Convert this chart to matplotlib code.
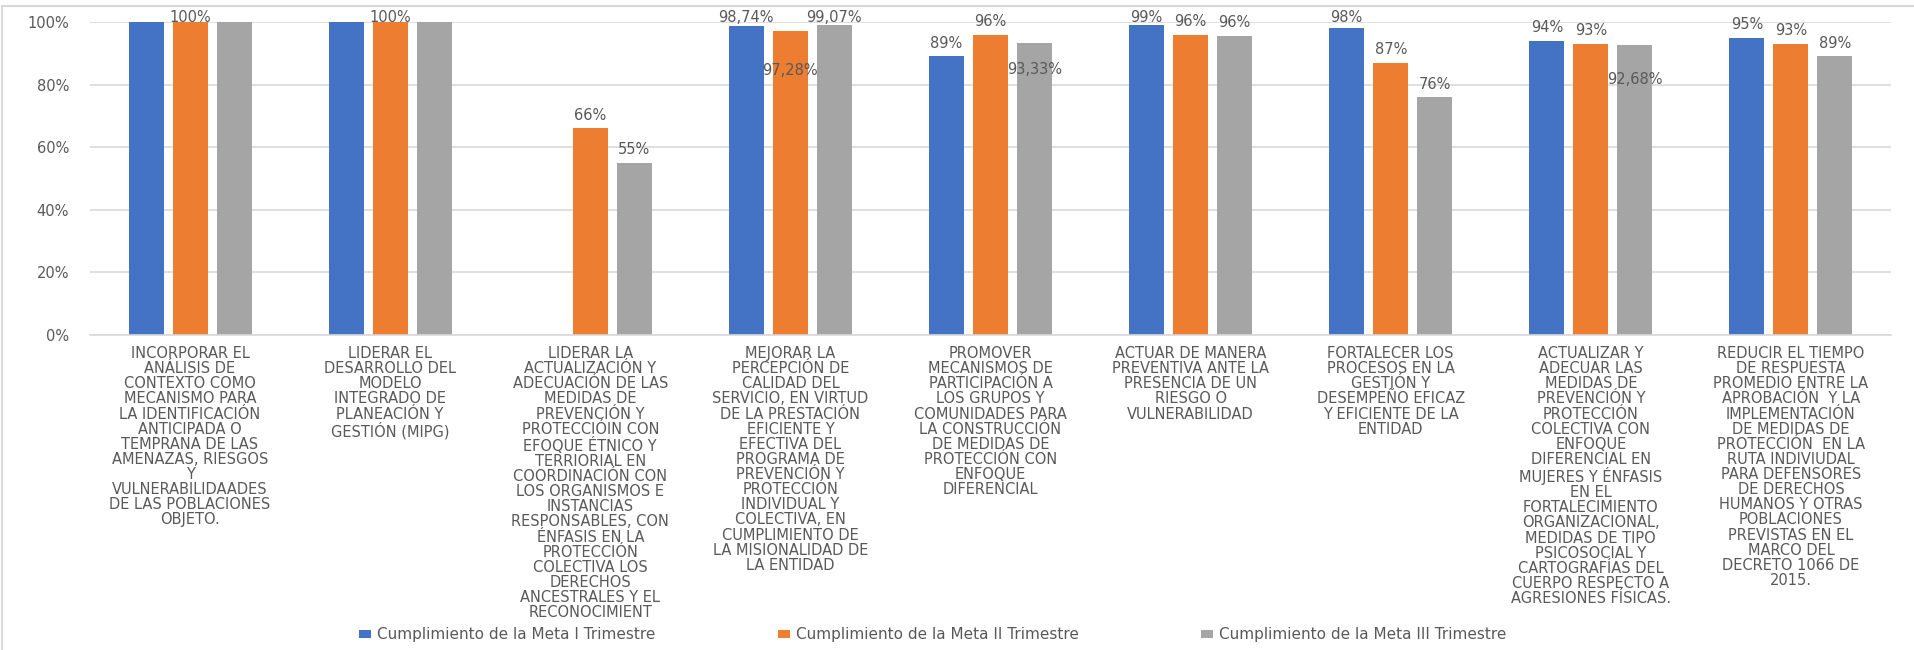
import numpy as np
import matplotlib
matplotlib.use("Agg")
import matplotlib.pyplot as plt
from matplotlib.lines import Line2D

# ---------------- data ----------------
categories = [
    "INCORPORAR EL\nANÁLISIS DE\nCONTEXTO COMO\nMECANISMO PARA\nLA IDENTIFICACIÓN\nANTICIPADA O\nTEMPRANA DE LAS\nAMENAZAS, RIESGOS\nY\nVULNERABILIDAADES\nDE LAS POBLACIONES\nOBJETO.",
    "LIDERAR EL\nDESARROLLO DEL\nMODELO\nINTEGRADO DE\nPLANEACIÓN Y\nGESTIÓN (MIPG)",
    "LIDERAR LA\nACTUALIZACIÓN Y\nADECUACIÓN DE LAS\nMEDIDAS DE\nPREVENCIÓN Y\nPROTECCIÓIN CON\nEFOQUE ÉTNICO Y\nTERRIORIAL EN\nCOORDINACIÓN CON\nLOS ORGANISMOS E\nINSTANCIAS\nRESPONSABLES, CON\nÉNFASIS EN LA\nPROTECCIÓN\nCOLECTIVA LOS\nDERECHOS\nANCESTRALES Y EL\nRECONOCIMIENT",
    "MEJORAR LA\nPERCEPCIÓN DE\nCALIDAD DEL\nSERVICIO, EN VIRTUD\nDE LA PRESTACIÓN\nEFICIENTE Y\nEFECTIVA DEL\nPROGRAMA DE\nPREVENCIÓN Y\nPROTECCIÓN\nINDIVIDUAL Y\nCOLECTIVA, EN\nCUMPLIMIENTO DE\nLA MISIONALIDAD DE\nLA ENTIDAD",
    "PROMOVER\nMECANISMOS DE\nPARTICIPACIÓN A\nLOS GRUPOS Y\nCOMUNIDADES PARA\nLA CONSTRUCCIÓN\nDE MEDIDAS DE\nPROTECCIÓN CON\nENFOQUE\nDIFERENCIAL",
    "ACTUAR DE MANERA\nPREVENTIVA ANTE LA\nPRESENCIA DE UN\nRIESGO O\nVULNERABILIDAD",
    "FORTALECER LOS\nPROCESOS EN LA\nGESTIÓN Y\nDESEMPEÑO EFICAZ\nY EFICIENTE DE LA\nENTIDAD",
    "ACTUALIZAR Y\nADECUAR LAS\nMEDIDAS DE\nPREVENCIÓN Y\nPROTECCIÓN\nCOLECTIVA CON\nENFOQUE\nDIFERENCIAL EN\nMUJERES Y ÉNFASIS\nEN EL\nFORTALECIMIENTO\nORGANIZACIONAL,\nMEDIDAS DE TIPO\nPSICOSOCIAL Y\nCARTOGRAFÍAS DEL\nCUERPO RESPECTO A\nAGRESIONES FÍSICAS.",
    "REDUCIR EL TIEMPO\nDE RESPUESTA\nPROMEDIO ENTRE LA\nAPROBACIÓN  Y LA\nIMPLEMENTACIÓN\nDE MEDIDAS DE\nPROTECCIÓN  EN LA\nRUTA INDIVIUDAL\nPARA DEFENSORES\nDE DERECHOS\nHUMANOS Y OTRAS\nPOBLACIONES\nPREVISTAS EN EL\nMARCO DEL\nDECRETO 1066 DE\n2015.",
]

series_names = [
    "Cumplimiento de la Meta I Trimestre",
    "Cumplimiento de la Meta II Trimestre",
    "Cumplimiento de la Meta III Trimestre",
]

meta_I = [1.00, 1.00, np.nan, 0.9874, 0.89, 0.99, 0.98, 0.94, 0.95]
meta_II = [1.00, 1.00, 0.66, 0.9728, 0.96, 0.96, 0.87, 0.93, 0.93]
meta_III = [1.00, 1.00, 0.55, 0.9907, 0.9333, 0.956, 0.76, 0.9268, 0.89]

labels_I = [None, None, None, "98,74%", "89%", "99%", "98%", "94%", "95%"]
labels_II = ["100%", "100%", "66%", "97,28%", "96%", "96%", "87%", "93%", "93%"]
labels_III = [None, None, "55%", "99,07%", "93,33%", "96%", "76%", "92,68%", "89%"]

y_ticks = [0.0, 0.2, 0.4, 0.6, 0.8, 1.0]
y_tick_labels = ["0%", "20%", "40%", "60%", "80%", "100%"]

# ---------------- style ----------------
colors = ["#4472C4", "#ED7D31", "#A5A5A5"]
text_color = "#595959"
grid_color = "#D9D9D9"
plt.rcParams["font.family"] = ["DejaVu Sans"]

W, H = 1915, 650
fig = plt.figure(figsize=(W / 100, H / 100), dpi=100)
left_px, right_px, top_px, bottom_px = 90, 1891, 22, 335
ax = fig.add_axes([left_px / W, 1 - bottom_px / H,
                   (right_px - left_px) / W, (bottom_px - top_px) / H])

x = np.arange(len(categories))
width = 0.175
offsets = [-0.22, 0.0, 0.22]
all_vals = [meta_I, meta_II, meta_III]
all_labels = [labels_I, labels_II, labels_III]

for vals, off, c, name in zip(all_vals, offsets, colors, series_names):
    ax.bar(x + off, vals, width=width, color=c, label=name, zorder=2)

ax.set_xlim(-0.5, len(categories) - 0.5)
ax.set_ylim(0, 1.0)

# data labels
px = 1.0 / (bottom_px - top_px)  # one pixel in data units
manual_shift = {(1, 3): -40, (2, 4): -27, (2, 7): -35}  # displaced labels (px from bar top)
for s, (vals, labs, off) in enumerate(zip(all_vals, all_labels, offsets)):
    for i, (v, lab) in enumerate(zip(vals, labs)):
        if lab is None or np.isnan(v):
            continue
        if (s, i) in manual_shift:
            yl = v + manual_shift[(s, i)] * px
        else:
            yl = min(v + 13 * px, 1.0 + 5 * px)
        ax.text(i + off, yl, lab, ha="center", va="center", fontsize=10.5,
                color=text_color, clip_on=False, zorder=3)

# axes styling
ax.set_yticks(y_ticks)
ax.set_yticklabels(y_tick_labels)
ax.yaxis.grid(True, color=grid_color, linewidth=1.2)
ax.set_axisbelow(True)
for sp in ["top", "right", "left"]:
    ax.spines[sp].set_visible(False)
ax.spines["bottom"].set_color(grid_color)
ax.spines["bottom"].set_linewidth(1.2)
ax.set_xticks(x)
ax.set_xticklabels(categories, fontsize=10.5, color=text_color, linespacing=1.01,
                   multialignment="center")
ax.tick_params(axis="x", length=0, pad=8)
ax.tick_params(axis="y", length=0, pad=15, labelsize=10.5, labelcolor=text_color)

# legend
leg = fig.legend(loc="center", bbox_to_anchor=(933 / W, 1 - 635 / H), ncol=3,
                 frameon=False, fontsize=11, handlelength=0.78, handleheight=0.46,
                 handletextpad=0.4, columnspacing=8.0, labelcolor=text_color)

# outer chart border (left and top edges visible)
fig.add_artist(Line2D([2 / W, 2 / W], [0, 1 - 6 / H], transform=fig.transFigure,
                      color=grid_color, linewidth=1.5))
fig.add_artist(Line2D([2 / W, 1], [1 - 6 / H, 1 - 6 / H], transform=fig.transFigure,
                      color=grid_color, linewidth=1.5))

fig.savefig("out.png", dpi=100, facecolor="white")
